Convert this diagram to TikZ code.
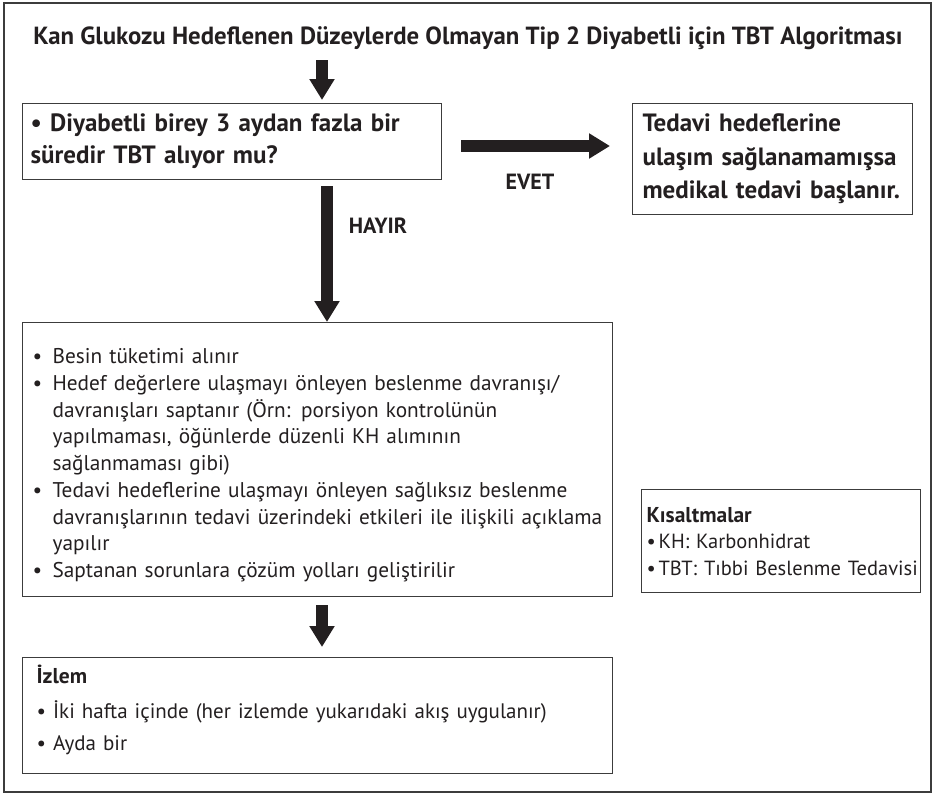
\documentclass[tikz,border=0pt]{standalone}
\usepackage{fontspec}
\setmainfont{PT Sans}
\usetikzlibrary{arrows.meta,positioning}
\definecolor{CizgiGri}{RGB}{60,60,60}
\definecolor{YaziSiyah}{RGB}{35,31,32}
\newcommand{\madde}[1]{\par\noindent\makebox[20pt][l]{\textbullet}\mbox{#1}}
\newcommand{\devam}[1]{\par\noindent\hspace*{20pt}\mbox{#1}}

\begin{document}
\begin{tikzpicture}[x=1pt,y=-1pt,
  kutu/.style={draw=CizgiGri,line width=1.2pt,anchor=north west,align=left,inner ysep=0pt,text=YaziSiyah},
  etiket/.style={font=\fontsize{22}{24}\selectfont\bfseries,text=YaziSiyah},
  blokok/.style={line width=12pt,-{Triangle[width=24pt,length=21pt]},YaziSiyah}]
  \useasboundingbox (0,0) rectangle (935,795);
  \draw[CizgiGri,line width=2pt] (4,3) rectangle (931,792);
  \node[font=\fontsize{24.8}{28}\selectfont\bfseries,text=YaziSiyah] (baslik) at (468,38)
    {Kan Glukozu Hedeflenen Düzeylerde Olmayan Tip 2 Diyabetli için TBT Algoritması};

  % kutular
  \node[kutu,inner xsep=8pt,text width=403pt,minimum height=76pt,
    font=\fontsize{25}{32}\selectfont\bfseries] (soru) at (22,103)
    {\textbullet\ Diyabetli birey 3 aydan fazla bir\\süredir TBT alıyor mu?};
  \node[kutu,inner xsep=10pt,text width=260pt,minimum height=111pt,
    font=\fontsize{25}{33.5}\selectfont\bfseries] (tedavi) at (632,103)
    {\mbox{Tedavi hedeflerine}\\\mbox{ulaşım sağlanamamışsa}\\\mbox{medikal tedavi başlanır.}};
  \node[kutu,inner xsep=10pt,text width=570pt,minimum height=274pt,
    font=\fontsize{21.3}{26.7}\selectfont] (liste) at (22,322)
    {\madde{Besin tüketimi alınır}
     \madde{Hedef değerlere ulaşmayı önleyen beslenme davranışı/}
     \devam{davranışları saptanır (Örn: porsiyon kontrolünün}
     \devam{yapılmaması, öğünlerde düzenli KH alımının}
     \devam{sağlanmaması gibi)}
     \madde{Tedavi hedeflerine ulaşmayı önleyen sağlıksız beslenme}
     \devam{davranışlarının tedavi üzerindeki etkileri ile ilişkili açıklama}
     \devam{yapılır}
     \madde{Saptanan sorunlara çözüm yolları geliştirilir}};
  \node[kutu,inner xsep=5pt,text width=269pt,minimum height=103pt,
    font=\fontsize{20.5}{26.5}\selectfont] (kisalt) at (641,489)
    {{\fontsize{21.5}{26.5}\selectfont\bfseries Kısaltmalar}\\
     \mbox{\makebox[12pt][l]{\textbullet}KH: Karbonhidrat}\\
     \mbox{\makebox[12pt][l]{\textbullet}TBT: Tıbbi Beslenme Tedavisi}};
  \node[kutu,inner xsep=14pt,text width=562pt,minimum height=116pt,
    font=\fontsize{21}{32}\selectfont] (izlem) at (22,657)
    {{\fontsize{21.5}{32}\selectfont\bfseries İzlem}\par\vspace{3pt}
     \mbox{\textbullet\ İki hafta içinde (her izlemde yukarıdaki akış uygulanır)}\par
     \textbullet\ Ayda bir\par\vspace{12pt}};

  % oklar
  \coordinate (ustok) at (322,60);
  \draw[blokok,shorten >=3pt] (ustok) -- (ustok |- soru.north);
  \coordinate (evetbas) at (461,146);
  \coordinate (evetuc) at (610,146);
  \draw[blokok] (evetbas) -- (evetuc);
  \coordinate (hayirbas) at (327,186);
  \draw[blokok] (hayirbas) -- (hayirbas |- liste.north);
  \coordinate (altok) at (322,605);
  \draw[blokok,shorten >=10pt] (altok) -- (altok |- izlem.north);

  \node[etiket] (evet) at (530,182) {EVET};
  \node[etiket] (hayir) at (378,226) {HAYIR};
\end{tikzpicture}
\end{document}
